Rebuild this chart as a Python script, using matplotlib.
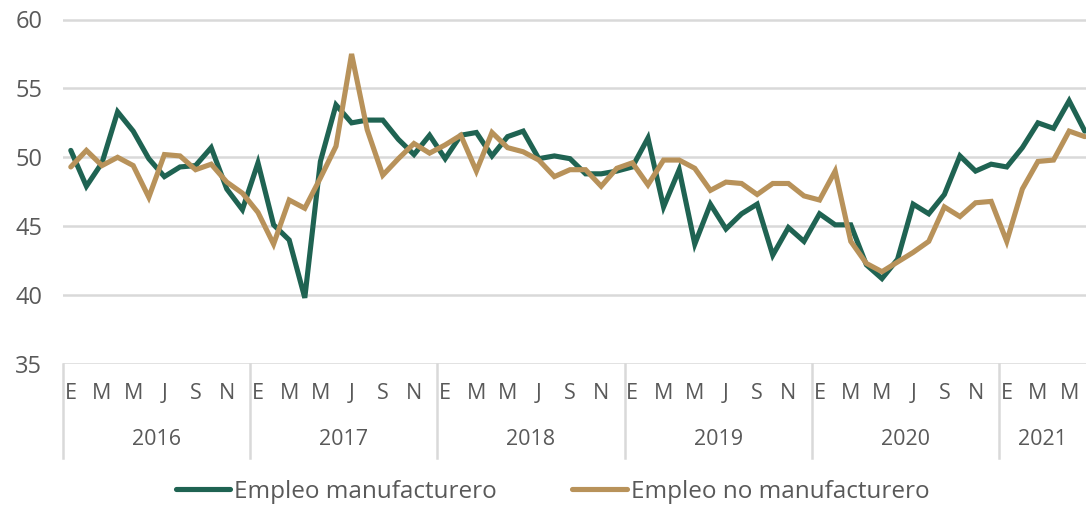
import numpy as np
import matplotlib.pyplot as plt
import matplotlib.transforms as mtransforms

plt.rcParams['font.family'] = ['Open Sans', 'DejaVu Sans']

years = ['2016', '2017', '2018', '2019', '2020', '2021']
month_letters = ['E', 'F', 'M', 'A', 'M', 'J', 'J', 'A', 'S', 'O', 'N', 'D']

# Indicadores mensuales, enero 2016 - junio 2021
manufacturero = [
    50.5, 47.9, 49.6, 53.3, 51.9, 49.9, 48.6, 49.3, 49.4, 50.7, 47.7, 46.2,
    49.6, 45.1, 44.0, 39.8, 49.7, 53.8, 52.5, 52.7, 52.7, 51.3, 50.2, 51.6,
    49.9, 51.6, 51.8, 50.1, 51.5, 51.9, 49.9, 50.1, 49.9, 48.8, 48.8, 49.0,
    49.3, 51.4, 46.4, 49.1, 43.7, 46.6, 44.8, 45.9, 46.6, 42.9, 44.9, 43.9,
    45.9, 45.1, 45.1, 42.2, 41.2, 42.6, 46.6, 45.9, 47.3, 50.1, 49.0, 49.5,
    49.3, 50.7, 52.5, 52.1, 54.1, 51.9,
]
no_manufacturero = [
    49.3, 50.5, 49.4, 50.0, 49.4, 47.1, 50.2, 50.1, 49.1, 49.5, 48.2, 47.4,
    46.0, 43.7, 46.9, 46.3, 48.5, 50.8, 57.5, 52.0, 48.7, 49.9, 51.0, 50.3,
    50.9, 51.6, 49.0, 51.8, 50.7, 50.4, 49.8, 48.6, 49.1, 49.1, 47.9, 49.2,
    49.6, 48.0, 49.8, 49.8, 49.2, 47.6, 48.2, 48.1, 47.3, 48.1, 48.1, 47.2,
    46.9, 49.0, 43.9, 42.3, 41.7, 42.4, 43.1, 43.9, 46.4, 45.7, 46.7, 46.8,
    43.9, 47.7, 49.7, 49.8, 51.9, 51.5,
]

green = '#1f6352'
tan = '#b8925a'
grid_color = '#d9d9d9'
text_color = '#595959'

x = np.arange(len(manufacturero))

fig = plt.figure(figsize=(10.86, 5.05), dpi=100)
ax = fig.add_axes([63 / 1086, 1 - 364 / 505, 1 - 63 / 1086, 344.5 / 505])

ax.plot(x, manufacturero, color=green, lw=3.7, solid_joinstyle='miter',
        solid_capstyle='round', label='Empleo manufacturero', zorder=3)
ax.plot(x, no_manufacturero, color=tan, lw=3.7, solid_joinstyle='miter',
        solid_capstyle='round', label='Empleo no manufacturero', zorder=3)

ax.set_xlim(-0.5, len(x) - 1 + 0.08)
ax.set_ylim(35, 60)
ax.set_yticks(np.arange(35, 61, 5))
ax.tick_params(axis='y', length=0, labelsize=17, labelcolor=text_color, pad=15)
ax.yaxis.grid(True, color=grid_color, lw=1.8)
ax.set_axisbelow(True)
for s in ax.spines.values():
    s.set_visible(False)

# month letters every other month, years below, separators between years
ax.set_xticks([])
trans = mtransforms.blended_transform_factory(ax.transData, ax.transAxes)
for i in range(0, len(x), 2):
    ax.text(i, -0.085, month_letters[i % 12], transform=trans, ha='center',
            va='center', fontsize=15.5, color=text_color)
for j, yr in enumerate(years):
    start = j * 12 - 0.5
    end = min(start + 12, len(x) - 1 + 0.08)
    ax.text((start + end) / 2, -0.22, yr, transform=trans, ha='center',
            va='center', fontsize=15.5, color=text_color)
    ax.plot([start, start], [0, -0.273], transform=trans, color=grid_color,
            lw=1.8, clip_on=False)

fig.legend(loc='center', bbox_to_anchor=(0.5087, 1 - 492 / 505), ncol=2,
           frameon=False, fontsize=17.5, handlelength=2.25, handletextpad=0.15,
           columnspacing=3.1, labelcolor=text_color)

fig.savefig('out.png', dpi=100)
